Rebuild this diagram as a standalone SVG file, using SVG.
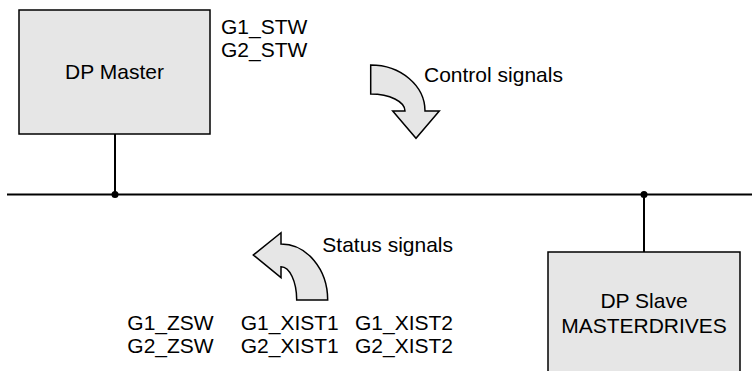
<svg xmlns="http://www.w3.org/2000/svg" width="752" height="371" viewBox="0 0 752 371">
<style>
.box{fill:#e6e6e6;stroke:#000;stroke-width:1.5}
.arr{fill:#e6e6e6;stroke:#000;stroke-width:1.5;stroke-linejoin:miter}
.ln{stroke:#000;stroke-width:2;fill:none}
.dot{fill:#000}
text{font-family:"Liberation Sans",Arial,sans-serif;font-size:21px;fill:#000}
.c{text-anchor:middle}
</style>
<rect width="752" height="371" fill="#fff"/>
<g id="connectors">
<line class="ln" x1="7" y1="194.5" x2="752" y2="194.5"/>
<line class="ln" x1="115" y1="134" x2="115" y2="194.5"/>
<line class="ln" x1="644" y1="194.5" x2="644" y2="252"/>
<circle class="dot" cx="115" cy="194.5" r="3.5"/>
<circle class="dot" cx="644" cy="194.5" r="3.5"/>
</g>
<g id="dp-master">
<rect class="box" x="19" y="10" width="191" height="124"/>
<text class="c" x="114.5" y="79">DP Master</text>
</g>
<g id="dp-slave">
<rect class="box" x="548" y="252" width="192" height="130"/>
<text class="c" x="644" y="307.5">DP Slave</text>
<text class="c" x="644" y="333">MASTERDRIVES</text>
</g>
<g id="control-signals">
<text x="221" y="33.5">G1_STW</text>
<text x="221" y="57">G2_STW</text>
<path class="arr" d="M370.7 65 A54.3 46 0 0 1 425 111 L439.3 111 L416 138.3 L392.7 111 L405 111 A34.3 17 0 0 0 370.7 94 Z"/>
<text x="424" y="82">Control signals</text>
</g>
<g id="status-signals">
<path class="arr" d="M327.7 300 A46.7 56 0 0 0 281 244 L281 232.7 L253.3 255 L281 277.7 L281 266.7 A15.7 33.3 0 0 1 296.7 300 Z"/>
<text x="322.3" y="251.7">Status signals</text>
<text x="127.3" y="330">G1_ZSW</text>
<text x="127.3" y="353">G2_ZSW</text>
<text x="240.7" y="330">G1_XIST1</text>
<text x="240.7" y="353">G2_XIST1</text>
<text x="355" y="330">G1_XIST2</text>
<text x="355" y="353">G2_XIST2</text>
</g>
</svg>
